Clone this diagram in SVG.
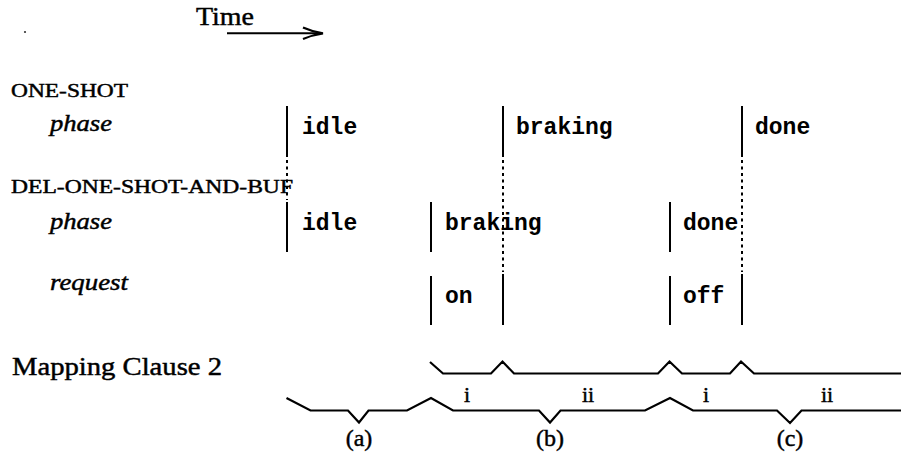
<svg xmlns="http://www.w3.org/2000/svg" width="901" height="459" viewBox="0 0 901 459">
<style>
.rm{font-family:"Liberation Serif","Times New Roman",serif;fill:#000;stroke:#000;stroke-width:0.45}
.it{font-family:"Liberation Serif","Times New Roman",serif;font-style:italic;fill:#000;stroke:#000;stroke-width:0.45}
.tt{font-family:"Liberation Mono","Courier New",monospace;font-weight:bold;font-size:23px;fill:#000}
.bar{stroke:#000;stroke-width:2;fill:none}
.dot{stroke:#000;stroke-width:2;fill:none;stroke-dasharray:3 3.5}
.brace{stroke:#000;stroke-width:2.2;fill:none;stroke-linejoin:miter}
</style>
<rect width="901" height="459" fill="#fff"/>
<circle cx="25" cy="32" r="1.1" fill="#333"/>
<g id="time">
<text class="rm" x="196" y="25" font-size="25" textLength="58" lengthAdjust="spacingAndGlyphs">Time</text>
<line x1="227" y1="33.3" x2="320" y2="33.3" stroke="#000" stroke-width="2"/>
<path d="M303,27.5 Q313,32 323,33.3 Q313,34.6 303,39" fill="none" stroke="#000" stroke-width="2.2"/>
</g>
<g id="labels">
<text class="rm" x="11" y="97" font-size="19" textLength="117" lengthAdjust="spacingAndGlyphs">ONE-SHOT</text>
<text class="it" x="50" y="131" font-size="23" textLength="62" lengthAdjust="spacingAndGlyphs">phase</text>
<text class="rm" x="11" y="193" font-size="19" textLength="282" lengthAdjust="spacingAndGlyphs">DEL-ONE-SHOT-AND-BUF</text>
<text class="it" x="50" y="229" font-size="23" textLength="62" lengthAdjust="spacingAndGlyphs">phase</text>
<text class="it" x="50" y="290" font-size="23" textLength="78" lengthAdjust="spacingAndGlyphs">request</text>
<text class="rm" x="12" y="375" font-size="25" textLength="210" lengthAdjust="spacingAndGlyphs">Mapping Clause 2</text>
</g>
<g id="connectors">
<line class="bar" x1="287" y1="106" x2="287" y2="157"/>
<line class="dot" x1="287" y1="160" x2="287" y2="200"/>
<line class="bar" x1="287" y1="202" x2="287" y2="252"/>
<line class="bar" x1="503" y1="106" x2="503" y2="157"/>
<line class="dot" x1="503" y1="160" x2="503" y2="272"/>
<line class="bar" x1="503" y1="274" x2="503" y2="325"/>
<line class="bar" x1="742" y1="106" x2="742" y2="157"/>
<line class="dot" x1="742" y1="160" x2="742" y2="272"/>
<line class="bar" x1="742" y1="274" x2="742" y2="325"/>
<line class="bar" x1="431" y1="202" x2="431" y2="252"/>
<line class="bar" x1="431" y1="276" x2="431" y2="325"/>
<line class="bar" x1="670" y1="202" x2="670" y2="252"/>
<line class="bar" x1="670" y1="276" x2="670" y2="325"/>
<path class="brace" d="M430,362 L443,373.5 L491,373.5 L502.5,361.5 L514,373.5 L658,373.5 L669.5,361.5 L682,373.5 L730,373.5 L741,361.5 L754,373.5 L901,373.5"/>
<path class="brace" d="M286.5,398 L310.5,410.5 L348,410.5 L359,422.5 L368.5,410.5 L407,410.5 L431,398 L453,410.5 L539,410.5 L550,422.5 L560.5,410.5 L645,410.5 L670,398 L693,410.5 L777,410.5 L790,423 L801.5,410.5 L901,410.5"/>
</g>
<g id="one-shot-phase">
<text class="tt" x="302" y="134">idle</text>
<text class="tt" x="516" y="134">braking</text>
<text class="tt" x="755" y="134">done</text>
</g>
<g id="del-phase">
<text class="tt" x="302" y="230">idle</text>
<text class="tt" x="445" y="230">braking</text>
<text class="tt" x="683" y="230">done</text>
</g>
<g id="del-request">
<text class="tt" x="445" y="303">on</text>
<text class="tt" x="683" y="303">off</text>
</g>
<g id="clause-labels">
<text class="rm" x="467" y="402" font-size="22" text-anchor="middle">i</text>
<text class="rm" x="588" y="402" font-size="22" text-anchor="middle">ii</text>
<text class="rm" x="706" y="402" font-size="22" text-anchor="middle">i</text>
<text class="rm" x="827" y="402" font-size="22" text-anchor="middle">ii</text>
<text class="rm" x="359" y="446" font-size="24" text-anchor="middle">(a)</text>
<text class="rm" x="550" y="446" font-size="24" text-anchor="middle">(b)</text>
<text class="rm" x="790" y="446" font-size="24" text-anchor="middle">(c)</text>
</g>
</svg>
